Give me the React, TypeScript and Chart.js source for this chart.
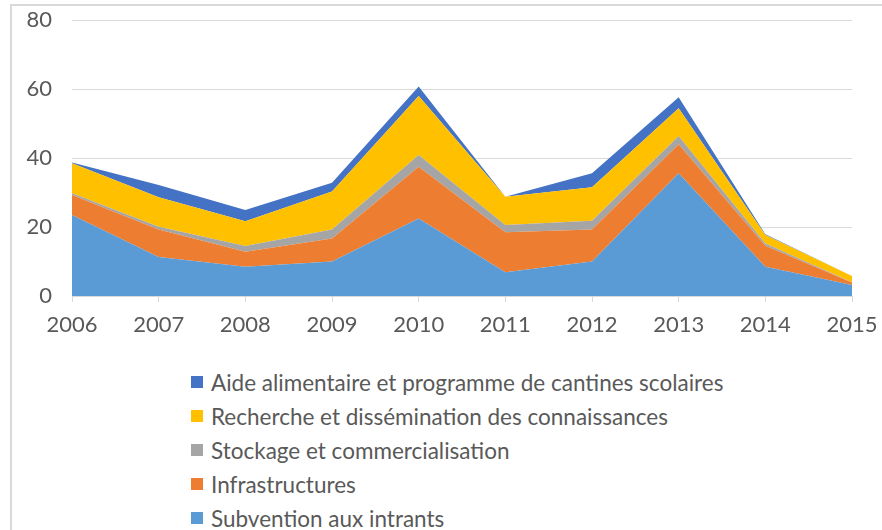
import React, { useEffect, useRef } from "react";
import { Chart, registerables } from "chart.js";

Chart.register(...registerables);

const years = ["2006", "2007", "2008", "2009", "2010", "2011", "2012", "2013", "2014", "2015"];
const subvention = [23.5, 11.3, 8.5, 10, 22.5, 6.9, 10, 35.6, 8.5, 3.2];
const infrastructures = [5.8, 8, 4.3, 6.7, 15, 11.6, 9.3, 8.4, 6.1, 0.7];
const stockage = [0.5, 0.8, 1.7, 2.6, 3.4, 2.1, 2.5, 2.4, 0.6, 0.1];
const recherche = [8.7, 8.5, 7.2, 11, 17.1, 8.2, 9.7, 8, 2.5, 1.8];
const aide = [0.2, 3.6, 3.2, 2.5, 2.7, 0, 4.1, 3.2, 0.2, 0];
const yTicks = [0, 20, 40, 60, 80];

const series = [
  { label: "Subvention aux intrants", data: subvention, color: "#5B9BD5" },
  { label: "Infrastructures", data: infrastructures, color: "#ED7D31" },
  { label: "Stockage et commercialisation", data: stockage, color: "#A5A5A5" },
  { label: "Recherche et dissémination des connaissances", data: recherche, color: "#FFC000" },
  { label: "Aide alimentaire et programme de cantines scolaires", data: aide, color: "#4472C4" },
];

const FONT = "Lato, 'Liberation Sans', sans-serif";
const TEXT = "#595959";

export default function App() {
  const ref = useRef<HTMLCanvasElement>(null);

  useEffect(() => {
    if (!ref.current) return;
    const chart = new Chart(ref.current, {
      type: "line",
      data: {
        labels: years,
        datasets: series.map((s, i) => ({
          label: s.label,
          data: s.data,
          backgroundColor: s.color,
          borderColor: s.color,
          borderWidth: 0,
          pointRadius: 0,
          fill: i === 0 ? "origin" : "-1",
          tension: 0,
        })),
      },
      options: {
        animation: false,
        responsive: false,
        devicePixelRatio: 1,
        layout: { padding: { left: 0, right: 30, top: 20, bottom: 0 } },
        plugins: { legend: { display: false }, tooltip: { enabled: false } },
        scales: {
          x: {
            offset: false,
            grid: { drawOnChartArea: false, drawTicks: true, tickLength: 6, color: "#d9d9d9" },
            border: { color: "#d9d9d9", width: 1 },
            ticks: { color: TEXT, font: { family: FONT, size: 22 }, padding: 10, maxRotation: 0 },
            afterFit: (s: any) => { s.height = 44; s.paddingLeft = 0; s.paddingRight = 0; },
          },
          y: {
            stacked: true,
            min: 0,
            max: 80,
            afterBuildTicks: (s: any) => { s.ticks = yTicks.map((v) => ({ value: v })); },
            grid: { color: "#d9d9d9", drawTicks: false },
            border: { display: false },
            ticks: { color: TEXT, font: { family: FONT, size: 22 }, padding: 20 },
            afterFit: (s: any) => { s.width = 72; s.paddingTop = 0; s.paddingBottom = 0; },
          },
        },
      },
    });
    return () => chart.destroy();
  }, []);

  const legendItems = [...series].reverse();

  return (
    <div style={{ position: "fixed", left: 0, top: 0, width: 882, height: 530, background: "#fff", overflow: "hidden", fontFamily: FONT }}>
      <div style={{ position: "absolute", left: 10, top: 4, right: -10, bottom: -10, borderLeft: "2px solid #d9d9d9", borderTop: "2px solid #d9d9d9" }} />
      <canvas ref={ref} width={882} height={340} style={{ position: "absolute", left: 0, top: 0, width: 882, height: 340 }} />
      <div style={{ position: "absolute", left: 191, top: 365 }}>
        {legendItems.map((s) => (
          <div key={s.label} style={{ display: "flex", alignItems: "center", height: 34, whiteSpace: "nowrap" }}>
            <span style={{ display: "inline-block", width: 12, height: 12, background: s.color, marginRight: 8 }} />
            <span style={{ color: TEXT, fontSize: 22.5 }}>{s.label}</span>
          </div>
        ))}
      </div>
    </div>
  );
}
